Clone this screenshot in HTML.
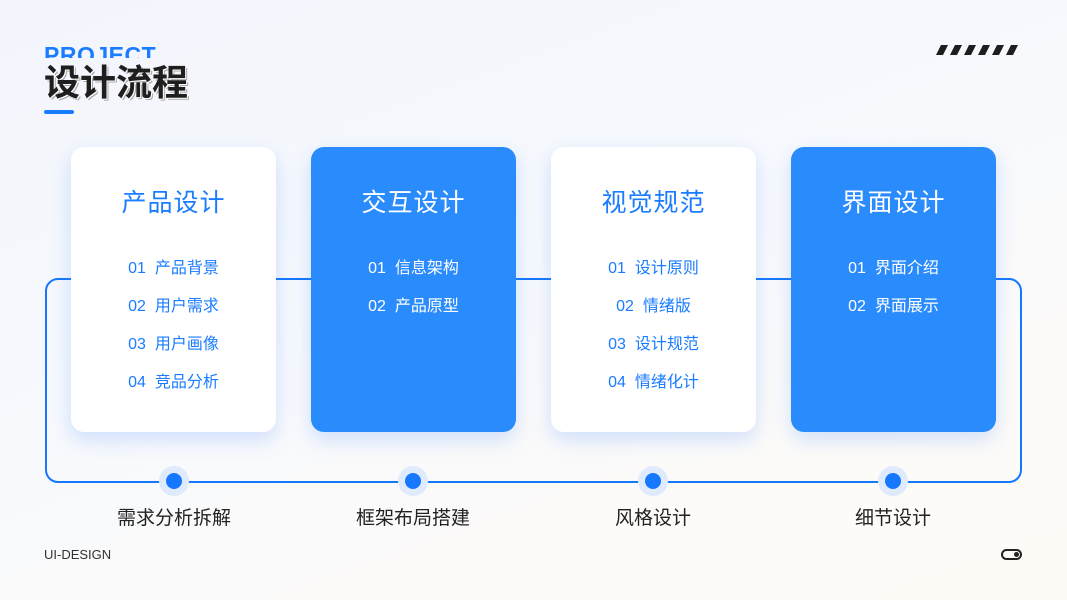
<!DOCTYPE html>
<html><head><meta charset="utf-8"><style>
*{margin:0;padding:0;box-sizing:border-box}
body{width:1067px;height:600px;overflow:hidden;position:relative;font-family:"Liberation Sans","Noto Sans CJK SC",sans-serif;background:linear-gradient(160deg,#f2f5fc 0%,#f7f9fd 45%,#fdfbf8 80%,#fdfaf6 100%)}
.abs{position:absolute}
.proj{left:44px;top:41px;height:17px;overflow:hidden;color:#1a7cff;font-size:23px;font-weight:bold;letter-spacing:0.5px;line-height:28px}
.title{left:44px;top:60px;font-size:36px;font-weight:bold;color:#1e1e1e;line-height:46px;text-shadow:1px 1px 0 #fff,2px 2px 0 #aaa}
.bar{left:44px;top:110px;width:30px;height:4px;border-radius:2px;background:#1a7cff}
.frame{left:45px;top:278px;width:977px;height:205px;border:2.5px solid #1677ff;border-radius:13px}
.card{top:147px;width:205px;height:285px;border-radius:13px;background:#fff;box-shadow:0 8px 20px rgba(60,130,255,.22);text-align:center;color:#1a7cff}
.card.b{background:#2a8bfd;color:#fff}
.card h2{font-size:25px;font-weight:normal;margin-top:40px;line-height:32px;letter-spacing:1px}
.card p{font-size:16px;line-height:38px}
.card .l{margin-top:31px}
.dot{top:466px;width:30px;height:30px;border-radius:50%;background:#dfeafc}
.dot::after{content:"";position:absolute;left:7px;top:7px;width:16px;height:16px;border-radius:50%;background:#1677ff}
.lab{top:505px;width:200px;text-align:center;font-size:19px;color:#222;line-height:26px}
</style></head><body>
<div class="abs proj">PROJECT</div>
<div class="abs title">设计流程</div>
<div class="abs bar"></div>
<svg class="abs" style="left:934px;top:44px" width="90" height="12"><g fill="#1e1e1e">
<polygon points="2,11 7,1 14,1 9,11"/><polygon points="16,11 21,1 28,1 23,11"/><polygon points="30,11 35,1 42,1 37,11"/><polygon points="44,11 49,1 56,1 51,11"/><polygon points="58,11 63,1 70,1 65,11"/><polygon points="72,11 77,1 84,1 79,11"/></g></svg>
<div class="abs frame"></div>
<div class="abs card" style="left:71px"><h2>产品设计</h2><div class="l"><p>01&nbsp; 产品背景</p><p>02&nbsp; 用户需求</p><p>03&nbsp; 用户画像</p><p>04&nbsp; 竞品分析</p></div></div>
<div class="abs card b" style="left:311px"><h2>交互设计</h2><div class="l"><p>01&nbsp; 信息架构</p><p>02&nbsp; 产品原型</p></div></div>
<div class="abs card" style="left:551px"><h2>视觉规范</h2><div class="l"><p>01&nbsp; 设计原则</p><p>02&nbsp; 情绪版</p><p>03&nbsp; 设计规范</p><p>04&nbsp; 情绪化计</p></div></div>
<div class="abs card b" style="left:791px"><h2>界面设计</h2><div class="l"><p>01&nbsp; 界面介绍</p><p>02&nbsp; 界面展示</p></div></div>
<div class="abs dot" style="left:159px"></div><div class="abs dot" style="left:398px"></div><div class="abs dot" style="left:638px"></div><div class="abs dot" style="left:878px"></div>
<div class="abs lab" style="left:74px;top:506px">需求分析拆解</div><div class="abs lab" style="left:313px;top:506px">框架布局搭建</div><div class="abs lab" style="left:553px;top:506px">风格设计</div><div class="abs lab" style="left:793px;top:506px">细节设计</div>
<div class="abs" style="left:44px;top:547px;font-size:13px;color:#333">UI-DESIGN</div>
<div class="abs" style="left:1001px;top:549px;width:21px;height:11px;border:2px solid #222;border-radius:6px"><div style="position:absolute;right:1px;top:1px;width:5px;height:5px;border-radius:50%;background:#222"></div></div>
</body></html>
